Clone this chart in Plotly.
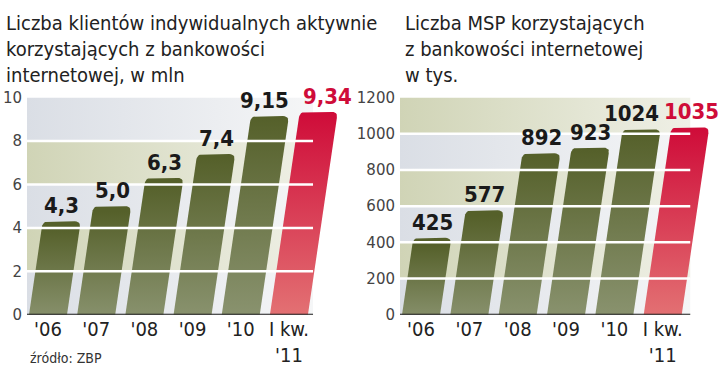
import plotly.graph_objects as go

# ---------------- data ----------------
categories = ["'06", "'07", "'08", "'09", "'10", "I kw.<br>'11"]
left_values = [4.3, 5.0, 6.3, 7.4, 9.15, 9.34]
left_labels = ["4,3", "5,0", "6,3", "7,4", "9,15", "9,34"]
right_values = [425, 577, 892, 923, 1024, 1035]
right_labels = ["425", "577", "892", "923", "1024", "1035"]
left_ticks = [0, 2, 4, 6, 8, 10]
right_ticks = [0, 200, 400, 600, 800, 1000, 1200]
left_title = "Liczba klientów indywidualnych aktywnie<br>korzystających z bankowości<br>internetowej, w mln"
right_title = "Liczba MSP korzystających<br>z bankowości internetowej<br>w tys."
source_text = "źródło: ZBP"

# ---------------- style ----------------
W, H = 720, 379
Y0_PX, Y1_PX = 321, 93          # pixel rows of axis zero and axis top
PLOT_H = Y0_PX - Y1_PX
SLANT = 0.14                    # horizontal px per vertical px
HALF_W_PX = 19
RADIUS_PX = 6
OLIVE = [[0, "#8c9572"], [1, "#55602a"]]
RED = [[0, "#e47676"], [1, "#cf0c39"]]
GRAY_BAND = [[0, "#dadee5"], [1, "#f5f6f7"]]
BEIGE_BAND = [[0, "#d0d4b6"], [1, "#eff0e6"]]
NARROW = "DejaVu Sans Condensed, Liberation Sans Narrow, Roboto Condensed, sans-serif"
LEFT_LABEL_XSHIFT = [0, 0, 0, 0, -5, 9]
RIGHT_LABEL_XSHIFT = [0, 0, 0, 0, -10, 1]

panels = [
    dict(values=left_values, labels=left_labels, ticks=left_ticks,
         px=(27, 340), xr=(-0.436, 6.06), grid_end=5.5, xa="x", ya="y",
         shift=LEFT_LABEL_XSHIFT),
    dict(values=right_values, labels=right_labels, ticks=right_ticks,
         px=(400, 712), xr=(-0.435, 6.02), grid_end=5.57, xa="x2", ya="y2",
         shift=RIGHT_LABEL_XSHIFT),
]

fig = go.Figure()
shapes = []
annotations = []


def bezier(p0, c, p1, n=6):
    pts = []
    for j in range(1, n + 1):
        t = j / n
        x = (1 - t) ** 2 * p0[0] + 2 * (1 - t) * t * c[0] + t ** 2 * p1[0]
        y = (1 - t) ** 2 * p0[1] + 2 * (1 - t) * t * c[1] + t ** 2 * p1[1]
        pts.append((x, y))
    return pts


for p in panels:
    ticks = p["ticks"]
    vmax = ticks[-1]
    pxu = (p["px"][1] - p["px"][0]) / (p["xr"][1] - p["xr"][0])
    pyu = PLOT_H / vmax
    k = SLANT * pyu / pxu            # x units per y unit
    hw = HALF_W_PX / pxu
    rx = RADIUS_PX / pxu
    ry = RADIUS_PX / pyu
    x_start = p["xr"][0]
    x_end = p["grid_end"]

    # background bands
    for parity, cs in ((0, GRAY_BAND), (1, BEIGE_BAND)):
        bx, by = [], []
        for i in range(len(ticks) - 1):
            if i % 2 != parity:
                continue
            lo, hi = ticks[i], ticks[i + 1]
            bx += [x_start, x_end, x_end, x_start, x_start, None]
            by += [lo, lo, hi, hi, lo, None]
        fig.add_trace(go.Scatter(
            x=bx, y=by, mode="lines", fill="toself", line=dict(width=0),
            fillgradient=dict(type="horizontal", colorscale=cs,
                              start=x_start, stop=x_end),
            hoverinfo="skip", showlegend=False,
            xaxis=p["xa"], yaxis=p["ya"]))

    # gridlines
    for t in ticks[1:-1]:
        shapes.append(dict(type="line", xref=p["xa"], yref=p["ya"],
                           x0=x_start, x1=x_end, y0=t, y1=t,
                           line=dict(color="white", width=2.5), layer="above"))

    # bars
    n = len(p["values"])
    for i, v in enumerate(p["values"]):
        xl0, xr0 = i - hw, i + hw
        xl = lambda y: xl0 + k * y
        xr = lambda y: xr0 + k * y
        pts = [(xl0, 0), (xr0, 0), (xr(v - ry), v - ry)]
        pts += bezier((xr(v - ry), v - ry), (xr(v), v), (xr(v) - rx, v))
        pts += [(xl(v) + rx, v)]
        pts += bezier((xl(v) + rx, v), (xl(v), v), (xl(v - ry), v - ry))
        pts += [(xl0, 0)]
        cs = RED if i == n - 1 else OLIVE
        fig.add_trace(go.Scatter(
            x=[q[0] for q in pts], y=[q[1] for q in pts],
            mode="lines", fill="toself", line=dict(width=0),
            fillgradient=dict(type="vertical", colorscale=cs, start=0, stop=v),
            hoverinfo="skip", showlegend=False,
            xaxis=p["xa"], yaxis=p["ya"]))

        # value label
        annotations.append(dict(
            x=i + k * v, y=v, xref=p["xa"], yref=p["ya"], text=p["labels"][i],
            showarrow=False, xanchor="center", yanchor="bottom",
            xshift=p["shift"][i], yshift=1,
            font=dict(family=NARROW, size=22, weight="bold",
                      color="#cf0c39" if i == n - 1 else "#1a1a1a")))

    # axis line at zero
    shapes.append(dict(type="line", xref=p["xa"], yref=p["ya"],
                       x0=x_start, x1=x_end, y0=0, y1=0,
                       line=dict(color="#1a1a1a", width=2), layer="above"))

ydom = [(H - Y0_PX) / H, (H - Y1_PX) / H]
axis_common_x = dict(tickmode="array", tickvals=list(range(len(categories))),
                     ticktext=categories, showgrid=False, zeroline=False,
                     showline=False, ticks="",
                     tickfont=dict(family=NARROW, size=20, color="#222"))
axis_common_y = dict(showgrid=False, zeroline=False, showline=False, ticks="",
                     tickfont=dict(family="DejaVu Sans", size=15, color="#444"),
                     ticklabelstandoff=4)

annotations += [
    dict(text=left_title, x=4 / W, y=1.0, xref="paper", yref="paper",
         xanchor="left", yanchor="top", align="left", showarrow=False,
         font=dict(family=NARROW, size=20, color="#222")),
    dict(text=right_title, x=403 / W, y=1.0, xref="paper", yref="paper",
         xanchor="left", yanchor="top", align="left", showarrow=False,
         font=dict(family=NARROW, size=20, color="#222")),
    dict(text=source_text, x=28 / W, y=2 / H, xref="paper", yref="paper",
         xanchor="left", yanchor="bottom", showarrow=False,
         font=dict(family=NARROW, size=14, color="#333")),
]

fig.update_layout(
    width=W, height=H, margin=dict(l=0, r=0, t=0, b=0),
    paper_bgcolor="white", plot_bgcolor="rgba(0,0,0,0)",
    showlegend=False, shapes=shapes, annotations=annotations,
    xaxis=dict(domain=[panels[0]["px"][0] / W, panels[0]["px"][1] / W],
               range=list(panels[0]["xr"]), anchor="y", **axis_common_x),
    yaxis=dict(domain=ydom, range=[0, left_ticks[-1]], anchor="x",
               tickvals=left_ticks, ticktext=[str(t) for t in left_ticks],
               **axis_common_y),
    xaxis2=dict(domain=[panels[1]["px"][0] / W, panels[1]["px"][1] / W],
                range=list(panels[1]["xr"]), anchor="y2", **axis_common_x),
    yaxis2=dict(domain=ydom, range=[0, right_ticks[-1]], anchor="x2",
                tickvals=right_ticks, ticktext=[str(t) for t in right_ticks],
                **axis_common_y),
)

fig.write_html("out.html", config={"displayModeBar": False},
               post_script="document.body.style.margin='0';")
